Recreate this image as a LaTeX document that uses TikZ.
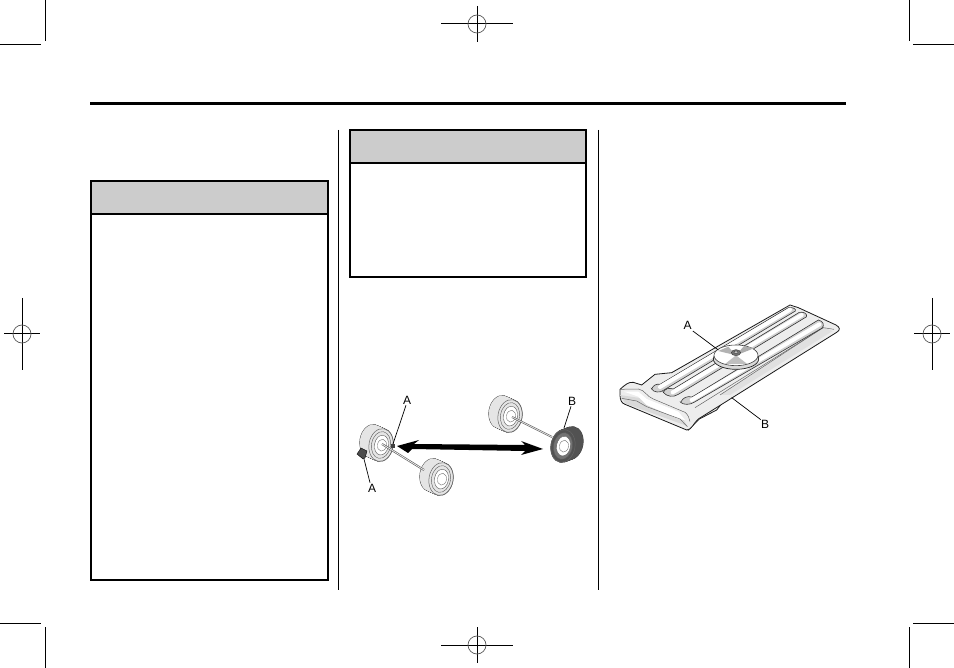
\documentclass[tikz,border=0pt]{standalone}
\usepackage{fontspec}
\setmainfont{Liberation Sans}
\definecolor{hdr}{gray}{0.8}
\definecolor{tyre}{gray}{0.9}
\definecolor{tyred}{gray}{0.32}
\tikzset{
  trim/.style={line width=1pt,black},
  rule/.style={line width=1pt,black},
  callout/.style={font=\fontsize{12}{14}\selectfont,inner sep=0pt},
  leader/.style={line width=0.7pt,black},
  cap box/.style={line width=2pt,black},
  axle/.style={draw=black!60,line width=2pt},
  axlein/.style={draw=white,line width=0.6pt},
  plate/.style={fill=black!7,draw=black!90,line width=0.8pt},
  rail/.style={fill=black!18,draw=black!80,line width=0.6pt},
  railhi/.style={draw=white,line width=4pt,line cap=round},
  edge/.style={draw=black!60,line width=0.5pt}
}
\newcommand{\regmark}[4]{%
  \draw[trim] (#1-#3,#2) -- (#1+#3,#2);
  \draw[trim] (#1,#2-#4) -- (#1,#2+#4);
  \draw[draw=black!65,line width=0.7pt] (#1,#2) circle (9);
}
% back x, back y, face x, face y, tyre colour, ring colour
\newcommand{\wheelat}[6]{%
  \foreach \t in {0,0.1,...,1.01}{
    \draw[draw=black!75,line width=0.9pt,rotate around={-10:({#1+\t*(#3-#1)},{#2+\t*(#4-#2)})}] ({#1+\t*(#3-#1)},{#2+\t*(#4-#2)}) ellipse (12 and 16.5);
  }
  \foreach \t in {0,0.1,...,1.01}{
    \fill[#5,rotate around={-10:({#1+\t*(#3-#1)},{#2+\t*(#4-#2)})}] ({#1+\t*(#3-#1)},{#2+\t*(#4-#2)}) ellipse (12 and 16.5);
  }
  \draw[draw=black!60,line width=0.5pt,rotate around={-10:(#3,#4)}] (#3,#4) ellipse (12 and 16.5);
  \draw[fill=#6,draw=black!65,line width=0.4pt,rotate around={-10:(#3,#4)}] (#3,#4) ellipse (9.5 and 13.5);
  \draw[fill=white,draw=black!65,line width=0.4pt,rotate around={-10:(#3,#4)}] (#3+0.5,#4) ellipse (7 and 10);
  \draw[fill=white,draw=black!55,line width=0.4pt,rotate around={-10:(#3,#4)}] (#3+1,#4) ellipse (4.5 and 6);
}
\begin{document}
\begin{tikzpicture}[x=1pt,y=-1pt]
\useasboundingbox (0,0) rectangle (954,668);
% crop marks
\draw[trim] (45,0) -- (45,41);
\draw[trim] (0,45) -- (41,45);
\draw[trim] (909,0) -- (909,41);
\draw[trim] (913,45) -- (954,45);
\draw[trim] (45,627) -- (45,668);
\draw[trim] (0,623) -- (41,623);
\draw[trim] (909,627) -- (909,668);
\draw[trim] (913,623) -- (954,623);
\regmark{477}{24}{36}{18}
\regmark{477}{645}{36}{18}
\regmark{22}{334}{18}{36}
\regmark{932}{334}{18}{36}
% header rule
\draw[line width=3pt] (90,103.5) -- (846,103.5);
% column rules
\draw[rule] (338,130) -- (338,590);
\draw[rule] (598,130) -- (598,590);
% boxes
\fill[hdr] (91,181) rectangle (328,214);
\draw[cap box] (91,181) rectangle (328,580);
\draw[cap box] (91,214) -- (328,214);
\fill[hdr] (350,130) rectangle (586,163);
\draw[cap box] (350,130) rectangle (586,277);
\draw[cap box] (350,163) -- (586,163);
% wheels figure
\wheelat{372}{441}{381}{445}{tyre}{tyre}
\wheelat{432}{475}{441}{479}{tyre}{tyre}
\wheelat{501}{412}{510}{416}{tyre}{tyre}
\draw[axle] (382,444) -- (424,470);
\draw[axlein] (382,444) -- (424,470);
\draw[axle] (512,417) -- (552,437);
\draw[axlein] (512,417) -- (552,437);
\wheelat{571}{443}{563}{446}{tyred}{black!55}
\fill[black!70,draw=black,line width=0.4pt] (357,454) -- (361,448) -- (367,451) -- (365,458) -- (363,459) -- cycle;
\fill[black!75] (391,444) rectangle (395,448);
% double arrow
\fill[black] (397,446) -- (419,440) -- (414,444) -- (525,445) -- (521,441) -- (543,449) -- (521,455) -- (525,451) -- (412,449) -- (408,453) -- cycle;
% leaders and labels
\node[callout] (aup) at (407,400) {A};
\node[callout] (alow) at (372,488) {A};
\node[callout] (bwh) at (572,401) {B};
\coordinate (aupend) at (393,444);
\coordinate (alowend) at (364,459);
\coordinate (bwhend) at (564,428);
\draw[leader] (aup.south) ++(-1,1) -- (aupend);
\draw[leader] (alow.north) ++(-2,-1) -- (alowend);
\draw[leader] (bwh.south) ++(-1,1) -- (bwhend);
% jack plate figure (drawn in 3x crop coordinates)
\begin{scope}[shift={(610,295)},scale=1/3]
  % lower step under the plate
  \draw[plate] (235,405) -- (268,372) -- (320,345) -- (338,322) -- (300,320) -- (235,370) -- cycle;
  % plate body
  \draw[plate] (30,283) .. controls (45,270) and (55,260) .. (70,262) -- (95,270) -- (135,238) -- (185,233)
     -- (540,30) -- (565,38) -- (678,90) .. controls (690,97) and (692,105) .. (680,112)
     -- (340,325) -- (265,372) .. controls (250,385) and (245,405) .. (230,405)
     -- (45,328) .. controls (35,325) and (30,315) .. (30,300) -- cycle;
  % front lip
  \fill[black!15] (30,300) -- (95,310) -- (120,335) -- (215,365) -- (232,393) -- (45,325) -- cycle;
  \fill[white] (42,290) -- (85,290) -- (110,312) -- (205,350) -- (225,375) -- (205,372) -- (110,330) -- (85,305) -- cycle;
  \draw[edge] (30,283) -- (85,282) .. controls (105,285) and (110,305) .. (130,312) -- (225,352) .. controls (235,360) and (238,370) .. (240,380);
  \draw[edge] (35,310) -- (80,318) -- (110,335) -- (210,372) -- (232,395);
  % flat side channel
  \fill[black!12] (640,97) -- (668,108) -- (360,300) -- (330,300) -- cycle;
  \draw[edge] (255,338) -- (640,98) -- (672,103);
  \draw[edge] (330,300) -- (640,97);
  % rails
  \draw[rail] (212,322) .. controls (218,308) and (232,302) .. (246,306) -- (625,75) .. controls (640,78) and (645,92) .. (635,100) -- (252,322) .. controls (240,330) and (220,330) .. cycle;
  \draw[railhi] (245,315) -- (628,88);
  \draw[rail] (160,292) .. controls (165,280) and (178,278) .. (190,282) -- (568,52) .. controls (580,50) and (592,55) .. (590,65) -- (205,298) .. controls (190,308) and (170,305) .. cycle;
  \draw[railhi] (188,292) -- (575,60);
  \draw[rail] (125,282) .. controls (130,270) and (140,266) .. (150,268) -- (535,38) .. controls (548,36) and (560,42) .. (556,48) -- (162,285) .. controls (150,295) and (130,292) .. cycle;
  \draw[railhi] (150,276) -- (540,44);
  % hub
  \draw[fill=black!15,draw=black!85,line width=0.7pt] (378,192) ellipse (68 and 31);
  \draw[fill=white,draw=black!75,line width=0.6pt] (378,181) ellipse (66 and 31);
  \fill[black!30] (378,181) -- (325,168) -- (355,155) -- cycle;
  \fill[black!32] (378,181) -- (402,153) -- (432,160) -- cycle;
  \fill[black!25] (378,181) -- (345,207) -- (412,207) -- cycle;
  \draw[fill=black!55,draw=black!80,line width=0.4pt] (378,173) ellipse (14 and 9);
  \draw[fill=black!25,draw=black!80,line width=0.3pt] (378,172) ellipse (6 and 4);
  \node[callout] (ahub) at (233,92) {A};
  \node[callout] (bplate) at (465,387) {B};
  \coordinate (ahubend) at (325,165);
  \coordinate (bplateend) at (365,308);
  \draw[leader] (ahub.south east) ++(3,3) -- (ahubend);
  \draw[leader] (bplate.north west) -- (bplateend);
\end{scope}
\end{tikzpicture}
\end{document}
